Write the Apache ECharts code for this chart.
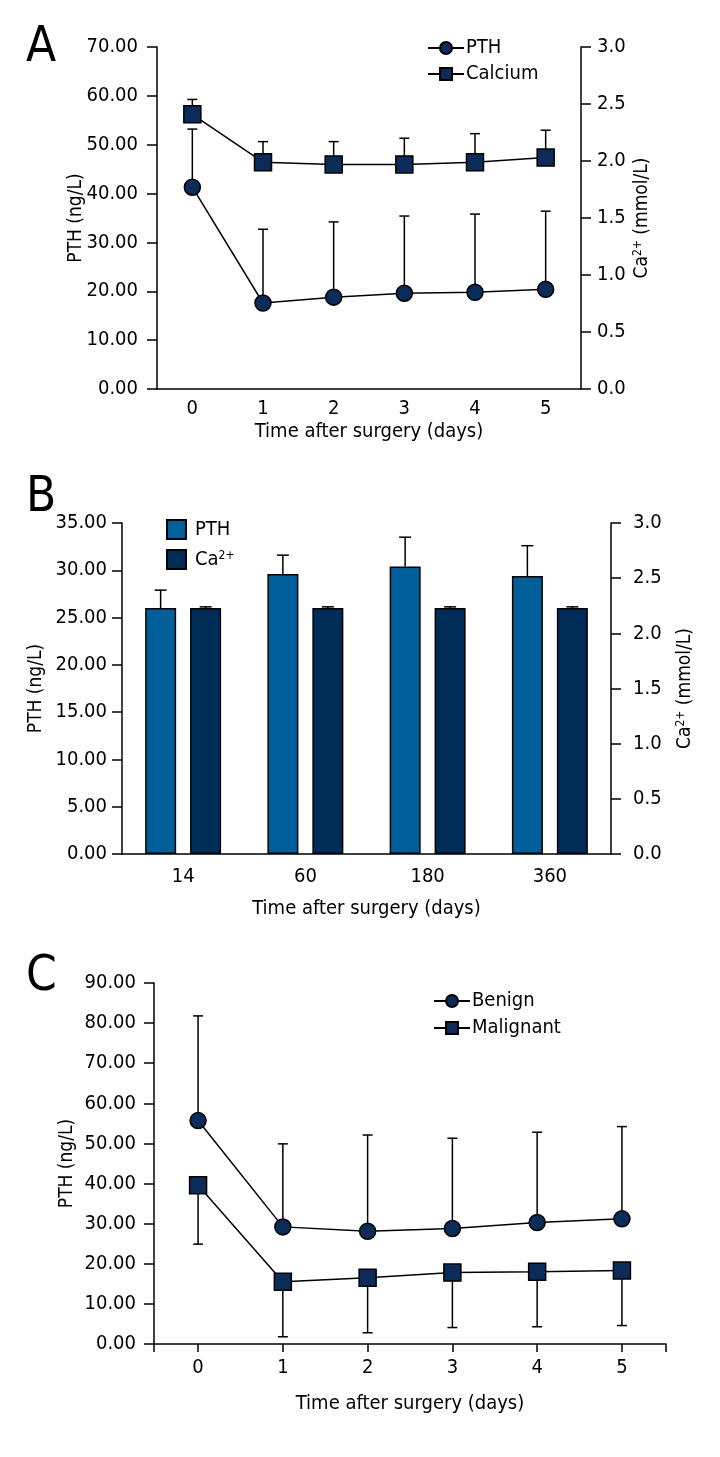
<!DOCTYPE html>
<html>
<head>
<meta charset="utf-8">
<script src="https://cdn.jsdelivr.net/npm/echarts@6/dist/echarts.min.js"></script>
<style>
  html, body { margin: 0; padding: 0; background: #fff; }
  #main { width: 720px; height: 1457px; }
</style>
</head>
<body>
<div id="main"></div>
<script>
// panel A: days 0-5 after surgery
var daysA = ['0', '1', '2', '3', '4', '5']
var pthMeanA = [41.3, 17.6, 18.8, 19.6, 19.8, 20.4]
var pthSdA = [11.9, 15.1, 15.4, 15.8, 16.0, 16.0]
var caMeanA = [2.41, 1.99, 1.97, 1.97, 1.99, 2.03]
var caSdA = [0.13, 0.18, 0.20, 0.23, 0.25, 0.24]

// panel B: long-term follow-up
var daysB = ['14', '60', '180', '360']
var pthMeanB = [26.0, 29.6, 30.4, 29.4]
var pthSdB = [1.9, 2.0, 3.1, 3.2]
var caMeanB = [2.23, 2.23, 2.23, 2.23]
var caSdB = [0.01, 0.01, 0.01, 0.01]

// panel C: benign vs malignant
var daysC = [0, 1, 2, 3, 4, 5]
var benignMean = [55.7, 29.2, 28.1, 28.8, 30.3, 31.2]
var benignSd = [26.1, 20.7, 24.0, 22.5, 22.5, 23.0]
var malignMean = [39.6, 15.5, 16.5, 17.8, 18.0, 18.3]
var malignSd = [14.7, 13.7, 13.7, 13.7, 13.7, 13.7]

var font = "'DejaVu Sans Condensed', 'Liberation Sans Narrow', sans-serif"
var navy = '#0b2c58'
var barLight = '#005f9a'
var barDark = '#002c58'
var tickSize = 20
var nameSize = 19

function errData (xs, mean, sd) {
  return mean.map(function (m, i) { return [xs[i], m, sd[i]] })
}

// dir 1 = up, -1 = down; off shifts the bar sideways (for grouped bars)
function errRender (dir, off, cap) {
  return function (params, api) {
    var x = api.value(0)
    var m = api.value(1)
    var s = api.value(2)
    var p0 = api.coord([x, m])
    var p1 = api.coord([x, m + dir * s])
    var st = { stroke: '#000', lineWidth: 1.5 }
    return {
      type: 'group',
      children: [
        { type: 'line', shape: { x1: p0[0] + off, y1: p0[1], x2: p1[0] + off, y2: p1[1] }, style: st },
        { type: 'line', shape: { x1: p1[0] + off - cap, y1: p1[1], x2: p1[0] + off + cap, y2: p1[1] }, style: st }
      ]
    }
  }
}

function valAxis (gi, min, max, step, digits, pos, margin, extra) {
  var ax = {
    type: 'value',
    gridIndex: gi,
    position: pos,
    min: min,
    max: max,
    interval: step,
    splitLine: { show: false },
    axisLine: { show: true, onZero: false, lineStyle: { color: '#000', width: 1.5 } },
    axisTick: { show: true, length: 10, lineStyle: { color: '#000', width: 1.5 } },
    axisLabel: {
      color: '#000', fontFamily: font, fontSize: tickSize, margin: margin,
      formatter: function (v) { return v.toFixed(digits) }
    },
    nameLocation: 'middle',
    nameRotate: 90,
    nameMoveOverlap: false,
    nameTextStyle: { color: '#000', fontFamily: font, fontSize: nameSize }
  }
  for (var k in extra) ax[k] = extra[k]
  return ax
}

var xName = 'Time after surgery (days)'
var xNameStyle = { color: '#000', fontFamily: font, fontSize: nameSize + 1 }
var caName = 'Ca{sup|2+} (mmol/L)'
var supRich = {
  sup: { fontFamily: font, fontSize: 12, color: '#000', verticalAlign: 'top', lineHeight: 20 }
}
var axLine = { lineStyle: { color: '#000', width: 1.5 } }
var axTick = { length: 8, lineStyle: { color: '#000', width: 1.5 } }

var option = {
  animation: false,
  backgroundColor: '#fff',
  textStyle: { fontFamily: font },
  graphic: [
    { type: 'text', left: 26, top: 24, style: { text: 'A', font: '49px ' + font, fill: '#000' } },
    { type: 'text', left: 26, top: 474, style: { text: 'B', font: '49px ' + font, fill: '#000' } },
    { type: 'text', left: 26, top: 953, style: { text: 'C', font: '49px ' + font, fill: '#000' } }
  ],
  grid: [
    { left: 157, width: 424, top: 47, height: 342 },
    { left: 122, width: 489, top: 523, height: 331 },
    { left: 154, width: 512, top: 983, height: 361 }
  ],
  legend: [
    {
      data: ['PTH', 'Calcium'], orient: 'vertical', left: 427, top: 38, padding: 0,
      itemWidth: 36, itemHeight: 15, itemGap: 6,
      textStyle: { color: '#000', fontFamily: font, fontSize: tickSize, padding: [0, 0, 0, -3] }
    },
    {
      data: ['PTH_B', 'Ca2+'], orient: 'vertical', left: 166, top: 519, padding: 0, icon: 'rect',
      itemWidth: 19, itemHeight: 19, itemGap: 9,
      formatter: function (n) { return n === 'Ca2+' ? 'Ca{sup|2+}' : 'PTH' },
      textStyle: { color: '#000', fontFamily: font, fontSize: tickSize, padding: [0, 0, 0, 4], rich: supRich }
    },
    {
      data: ['Benign', 'Malignant'], orient: 'vertical', left: 433, top: 991, padding: 0,
      itemWidth: 36, itemHeight: 15, itemGap: 7,
      textStyle: { color: '#000', fontFamily: font, fontSize: tickSize, padding: [0, 0, 0, -3] }
    }
  ],
  xAxis: [
    {
      type: 'category', gridIndex: 0, data: daysA,
      axisLine: axLine, axisTick: axTick,
      axisLabel: { color: '#000', fontFamily: font, fontSize: tickSize, margin: 10 },
      name: xName, nameLocation: 'middle', nameGap: 33, nameTextStyle: xNameStyle
    },
    {
      type: 'category', gridIndex: 1, data: daysB,
      axisLine: axLine, axisTick: axTick,
      axisLabel: { color: '#000', fontFamily: font, fontSize: tickSize, margin: 13 },
      name: xName, nameLocation: 'middle', nameGap: 45, nameTextStyle: xNameStyle
    },
    {
      type: 'value', gridIndex: 2, min: -0.52, max: 5.52,
      splitLine: { show: false },
      axisLine: { show: true, onZero: false, lineStyle: { color: '#000', width: 1.5 } },
      axisTick: { show: true, length: 8, customValues: [-0.52, 0, 1, 2, 3, 4, 5, 5.52], lineStyle: { color: '#000', width: 1.5 } },
      axisLabel: { color: '#000', fontFamily: font, fontSize: tickSize, margin: 14, customValues: daysC },
      name: xName, nameLocation: 'middle', nameGap: 50, nameTextStyle: xNameStyle
    }
  ],
  yAxis: [
    valAxis(0, 0, 70, 10, 2, 'left', 19, { name: 'PTH (ng/L)', nameGap: 71 }),
    valAxis(0, 0, 3, 0.5, 1, 'right', 16, {
      name: caName, nameGap: 51,
      nameTextStyle: { color: '#000', fontFamily: font, fontSize: nameSize, rich: supRich }
    }),
    valAxis(1, 0, 35, 5, 2, 'left', 15, { name: 'PTH (ng/L)', nameGap: 76 }),
    valAxis(1, 0, 3, 0.5, 1, 'right', 22, {
      name: caName, nameGap: 64,
      nameTextStyle: { color: '#000', fontFamily: font, fontSize: nameSize, rich: supRich }
    }),
    valAxis(2, 0, 90, 10, 2, 'left', 18, { name: 'PTH (ng/L)', nameGap: 77 })
  ],
  series: [
    // panel A
    {
      type: 'custom', name: 'errPthA', xAxisIndex: 0, yAxisIndex: 0, z: 1,
      renderItem: errRender(1, 0, 5), encode: { x: 0, y: 1 },
      data: errData([0, 1, 2, 3, 4, 5], pthMeanA, pthSdA)
    },
    {
      type: 'custom', name: 'errCaA', xAxisIndex: 0, yAxisIndex: 1, z: 1,
      renderItem: errRender(1, 0, 5), encode: { x: 0, y: 1 },
      data: errData([0, 1, 2, 3, 4, 5], caMeanA, caSdA)
    },
    {
      type: 'line', name: 'PTH', xAxisIndex: 0, yAxisIndex: 0, z: 3,
      data: pthMeanA, symbol: 'circle', symbolSize: 16,
      lineStyle: { color: '#000', width: 1.5 },
      itemStyle: { color: navy, borderColor: '#000', borderWidth: 1.5 }
    },
    {
      type: 'line', name: 'Calcium', xAxisIndex: 0, yAxisIndex: 1, z: 3,
      data: caMeanA, symbol: 'rect', symbolSize: 17,
      lineStyle: { color: '#000', width: 1.5 },
      itemStyle: { color: navy, borderColor: '#000', borderWidth: 1.5 }
    },
    // panel B
    {
      type: 'bar', name: 'PTH_B', xAxisIndex: 1, yAxisIndex: 2, z: 3,
      data: pthMeanB, barWidth: 31, barGap: '45%',
      itemStyle: { color: barLight, borderColor: '#000', borderWidth: 1.5 }
    },
    {
      type: 'bar', name: 'Ca2+', xAxisIndex: 1, yAxisIndex: 3, z: 3,
      data: caMeanB, barWidth: 31, barGap: '45%',
      itemStyle: { color: barDark, borderColor: '#000', borderWidth: 1.5 }
    },
    {
      type: 'custom', name: 'errPthB', xAxisIndex: 1, yAxisIndex: 2, z: 2,
      renderItem: errRender(1, -22.5, 6), encode: { x: 0, y: 1 },
      data: errData([0, 1, 2, 3], pthMeanB, pthSdB)
    },
    {
      type: 'custom', name: 'errCaB', xAxisIndex: 1, yAxisIndex: 3, z: 2,
      renderItem: errRender(1, 22.5, 6), encode: { x: 0, y: 1 },
      data: errData([0, 1, 2, 3], caMeanB, caSdB)
    },
    // panel C
    {
      type: 'custom', name: 'errBenign', xAxisIndex: 2, yAxisIndex: 4, z: 1,
      renderItem: errRender(1, 0, 5), encode: { x: 0, y: 1 },
      data: errData(daysC, benignMean, benignSd)
    },
    {
      type: 'custom', name: 'errMalign', xAxisIndex: 2, yAxisIndex: 4, z: 1,
      renderItem: errRender(-1, 0, 5), encode: { x: 0, y: 1 },
      data: errData(daysC, malignMean, malignSd)
    },
    {
      type: 'line', name: 'Benign', xAxisIndex: 2, yAxisIndex: 4, z: 3,
      data: benignMean.map(function (v, i) { return [daysC[i], v] }),
      symbol: 'circle', symbolSize: 16,
      lineStyle: { color: '#000', width: 1.5 },
      itemStyle: { color: navy, borderColor: '#000', borderWidth: 1.5 }
    },
    {
      type: 'line', name: 'Malignant', xAxisIndex: 2, yAxisIndex: 4, z: 3,
      data: malignMean.map(function (v, i) { return [daysC[i], v] }),
      symbol: 'rect', symbolSize: 17,
      lineStyle: { color: '#000', width: 1.5 },
      itemStyle: { color: navy, borderColor: '#000', borderWidth: 1.5 }
    }
  ]
}

var myChart = echarts.init(document.getElementById('main'))
myChart.setOption(option)
</script>
</body>
</html>
